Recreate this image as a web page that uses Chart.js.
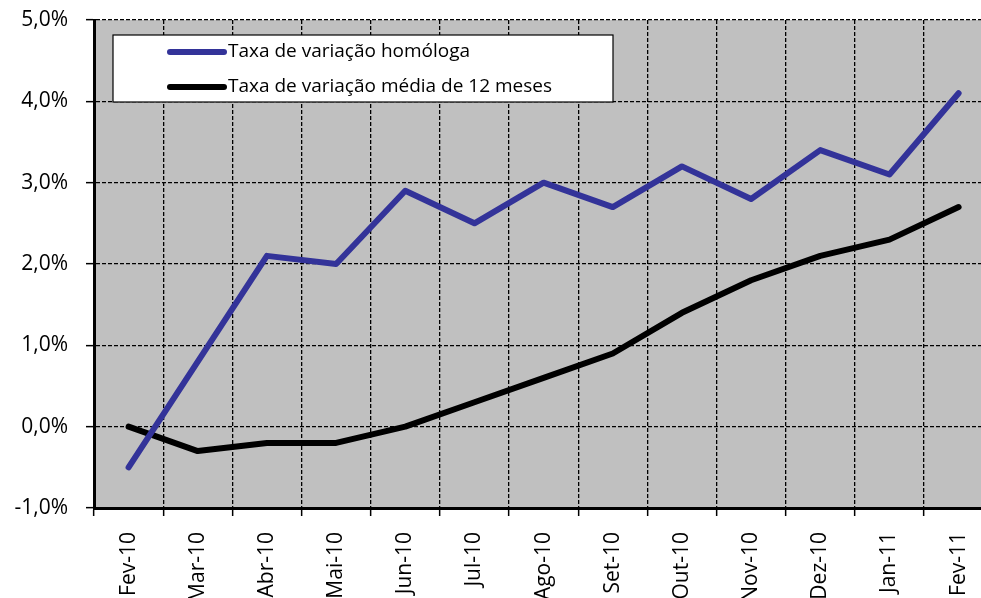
<!DOCTYPE html>
<html>
<head>
<meta charset="utf-8">
<script src="https://cdn.jsdelivr.net/npm/chart.js@4/dist/chart.umd.min.js"></script>
<style>
html, body { margin:0; padding:0; overflow:hidden; background:#fff; width:981px; height:598px; }
#wrap { position:absolute; left:0; top:0; width:1000px; height:640px; }
</style>
</head>
<body>
<div id="wrap"><canvas id="c"></canvas></div>
<script>
const categories = ['Fev-10','Mar-10','Abr-10','Mai-10','Jun-10','Jul-10','Ago-10','Set-10','Out-10','Nov-10','Dez-10','Jan-11','Fev-11'];
const homologa = [-0.5, 0.8, 2.1, 2.0, 2.9, 2.5, 3.0, 2.7, 3.2, 2.8, 3.4, 3.1, 4.1];
const media12 = [0.0, -0.3, -0.2, -0.2, 0.0, 0.3, 0.6, 0.9, 1.4, 1.8, 2.1, 2.3, 2.7];
const seriesNames = ['Taxa de variação homóloga', 'Taxa de variação média de 12 meses'];
const yMin = -1, yMax = 5, yStep = 1;

const FONT = "'Open Sans', sans-serif";

const bgPlugin = {
  id: 'bg',
  beforeDraw(chart) {
    const {ctx, chartArea: a} = chart;
    ctx.save();
    ctx.fillStyle = '#C0C0C0';
    ctx.fillRect(a.left, a.top, a.right - a.left, a.bottom - a.top);
    ctx.restore();
  }
};

const legendPlugin = {
  id: 'boxLegend',
  afterDatasetsDraw(chart) {
    const {ctx, chartArea: a} = chart;
    const x0 = a.left + 19, y0 = a.top + 15, w = 500, h = 67;
    ctx.save();
    ctx.fillStyle = '#fff';
    ctx.fillRect(x0, y0, w, h);
    ctx.strokeStyle = '#000';
    ctx.lineWidth = 1.2;
    ctx.strokeRect(x0, y0, w, h);
    chart.data.datasets.forEach((ds, i) => {
      const y = y0 + 17 + i * 35;
      ctx.strokeStyle = ds.borderColor;
      ctx.lineWidth = 6;
      ctx.lineCap = 'round';
      ctx.beginPath();
      ctx.moveTo(x0 + 57, y);
      ctx.lineTo(x0 + 111, y);
      ctx.stroke();
      ctx.fillStyle = '#000';
      ctx.font = '19px ' + FONT;
      ctx.textBaseline = 'middle';
      ctx.textAlign = 'left';
      ctx.fillText(ds.label, x0 + 115, y);
    });
    ctx.restore();
  }
};

new Chart(document.getElementById('c'), {
  type: 'line',
  data: {
    labels: categories,
    datasets: [
      { label: seriesNames[0], data: homologa, borderColor: '#333399', backgroundColor: '#333399',
        borderWidth: 6, pointRadius: 0, tension: 0, borderCapStyle: 'round', borderJoinStyle: 'round' },
      { label: seriesNames[1], data: media12, borderColor: '#000000', backgroundColor: '#000000',
        borderWidth: 6, pointRadius: 0, tension: 0, borderCapStyle: 'round', borderJoinStyle: 'round' }
    ]
  },
  options: {
    responsive: true,
    maintainAspectRatio: false,
    animation: false,
    layout: { padding: { top: 20, right: 5, left: 0, bottom: 0 } },
    plugins: { legend: { display: false }, tooltip: { enabled: false } },
    scales: {
      x: {
        offset: true,
        grid: { offset: true, color: '#000', lineWidth: 1.3, tickLength: 8, tickColor: '#000', tickWidth: 1.5 },
        border: { display: true, color: '#000', width: 3, dash: [4, 2] },
        ticks: { color: '#000', font: { family: FONT, size: 21 }, minRotation: 90, maxRotation: 90, padding: 16, autoSkip: false },
        afterFit(scale) { scale.height = 132; }
      },
      y: {
        min: yMin, max: yMax,
        grid: { color: '#000', lineWidth: 1.3, tickLength: 8, tickColor: '#000', tickWidth: 1.5 },
        border: { display: true, color: '#000', width: 3, dash: [4, 2] },
        ticks: { stepSize: yStep, color: '#000', font: { family: FONT, size: 21 }, padding: 18,
          callback: v => v.toFixed(1).replace('.', ',') + '%' },
        afterFit(scale) { scale.width = 94; scale.paddingTop = 0; scale.paddingBottom = 0; }
      }
    }
  },
  plugins: [bgPlugin, legendPlugin]
});
</script>
</body>
</html>
